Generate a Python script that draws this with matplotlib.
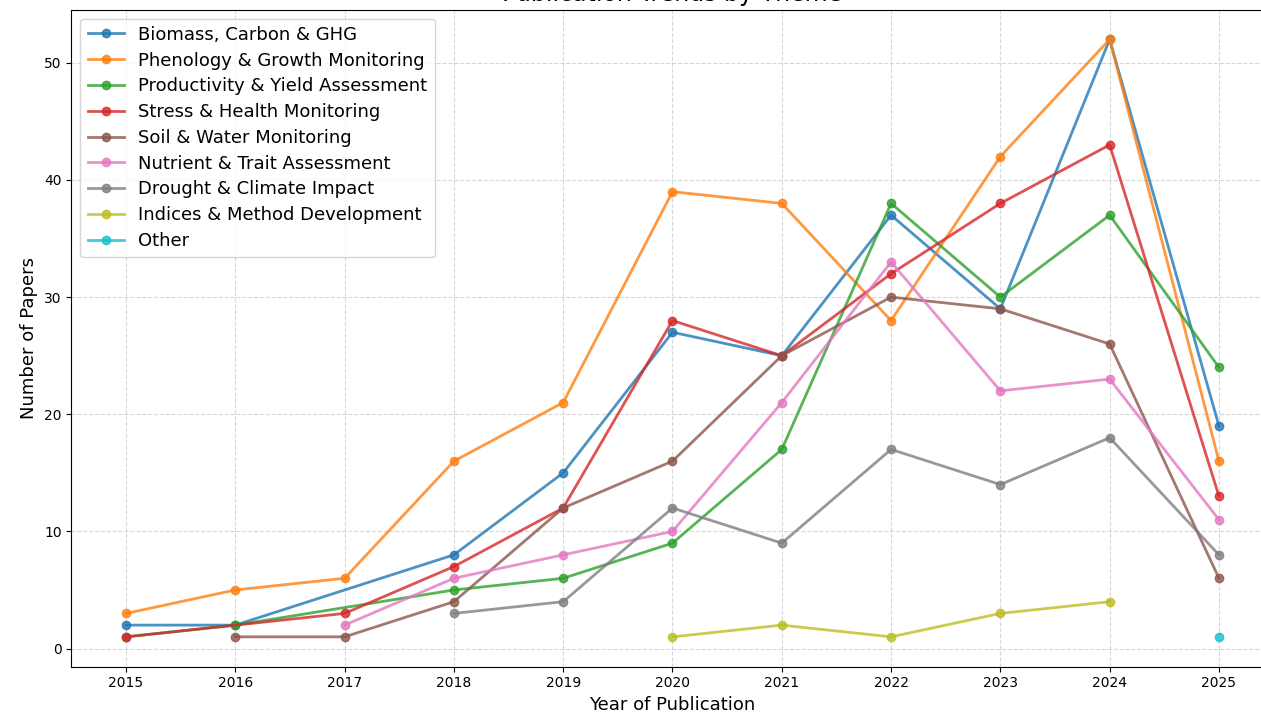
import numpy as np
import matplotlib
matplotlib.use("Agg")
import matplotlib.pyplot as plt

# years per theme (gaps are years with no papers)
themes = [
    "Biomass, Carbon & GHG",
    "Phenology & Growth Monitoring",
    "Productivity & Yield Assessment",
    "Stress & Health Monitoring",
    "Soil & Water Monitoring",
    "Nutrient & Trait Assessment",
    "Drought & Climate Impact",
    "Indices & Method Development",
    "Other",
]
theme_colors = ["tab:blue", "tab:orange", "tab:green", "tab:red", "tab:brown",
                "tab:pink", "tab:gray", "tab:olive", "tab:cyan"]

biomass_years = [2015, 2016, 2018, 2019, 2020, 2021, 2022, 2023, 2024, 2025]
biomass_counts = [2, 2, 8, 15, 27, 25, 37, 29, 52, 19]

phenology_years = [2015, 2016, 2017, 2018, 2019, 2020, 2021, 2022, 2023, 2024, 2025]
phenology_counts = [3, 5, 6, 16, 21, 39, 38, 28, 42, 52, 16]

productivity_years = [2015, 2016, 2018, 2019, 2020, 2021, 2022, 2023, 2024, 2025]
productivity_counts = [1, 2, 5, 6, 9, 17, 38, 30, 37, 24]

stress_years = [2015, 2017, 2018, 2019, 2020, 2021, 2022, 2023, 2024, 2025]
stress_counts = [1, 3, 7, 12, 28, 25, 32, 38, 43, 13]

soil_years = [2016, 2017, 2018, 2019, 2020, 2021, 2022, 2023, 2024, 2025]
soil_counts = [1, 1, 4, 12, 16, 25, 30, 29, 26, 6]

nutrient_years = [2017, 2018, 2019, 2020, 2021, 2022, 2023, 2024, 2025]
nutrient_counts = [2, 6, 8, 10, 21, 33, 22, 23, 11]

drought_years = [2018, 2019, 2020, 2021, 2022, 2023, 2024, 2025]
drought_counts = [3, 4, 12, 9, 17, 14, 18, 8]

indices_years = [2020, 2021, 2022, 2023, 2024]
indices_counts = [1, 2, 1, 3, 4]

other_years = [2025]
other_counts = [1]

series = [
    (biomass_years, biomass_counts),
    (phenology_years, phenology_counts),
    (productivity_years, productivity_counts),
    (stress_years, stress_counts),
    (soil_years, soil_counts),
    (nutrient_years, nutrient_counts),
    (drought_years, drought_counts),
    (indices_years, indices_counts),
    (other_years, other_counts),
]

fig = plt.figure(figsize=(12.61, 7.12), dpi=100)
ax = fig.add_axes([0.0566, 0.0636, 0.9534, 0.923])

for name, color, (yrs, cnt) in zip(themes, theme_colors, series):
    ax.plot(yrs, cnt, marker="o", linewidth=2, alpha=0.8, color=color, label=name)

ax.set_title("Publication Trends by Theme", fontsize=17)
ax.set_xlabel("Year of Publication", fontsize=13)
ax.set_ylabel("Number of Papers", fontsize=13)
ax.set_xticks(range(2015, 2026))
ax.tick_params(labelsize=10)
ax.grid(True, linestyle="--", alpha=0.5)
ax.legend(loc="upper left", fontsize=13, labelspacing=0.43)

fig.savefig("out.png", dpi=100)
